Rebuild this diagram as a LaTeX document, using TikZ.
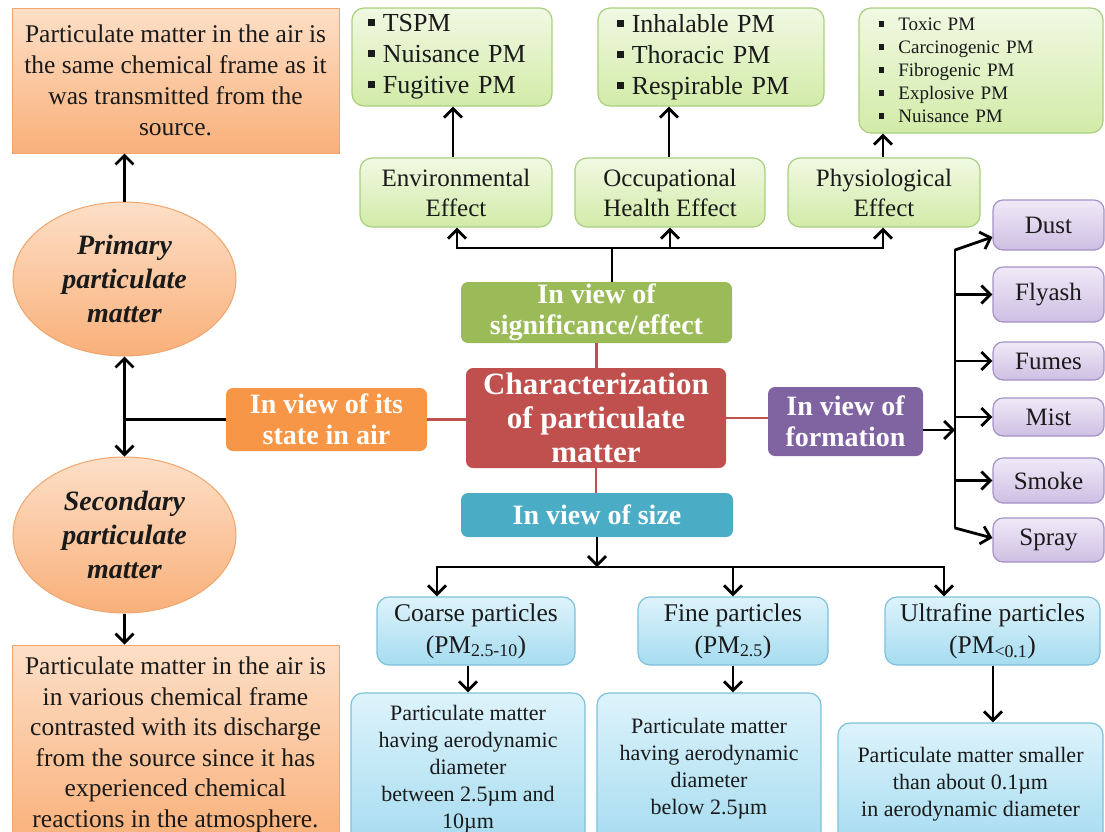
\documentclass[tikz,border=0pt]{standalone}
\usepackage{fontspec}
\setmainfont{Liberation Serif}
\usetikzlibrary{arrows.meta,shapes.geometric}
\definecolor{cOrD}{HTML}{F79646}
\definecolor{cRed}{HTML}{C0504D}
\definecolor{cGrn}{HTML}{9BBB59}
\definecolor{cBlu}{HTML}{4BACC6}
\definecolor{cPur}{HTML}{8064A2}
\definecolor{oT}{HTML}{FDDFC7}
\definecolor{oB}{HTML}{F9B079}
\definecolor{oE}{HTML}{EFA56C}
\definecolor{gT}{HTML}{F1F9E3}
\definecolor{gB}{HTML}{D2EBA8}
\definecolor{gE}{HTML}{A9CF7E}
\definecolor{pT}{HTML}{F0EAF7}
\definecolor{pB}{HTML}{CDBFE3}
\definecolor{pE}{HTML}{A592C6}
\definecolor{bT}{HTML}{DDF3FB}
\definecolor{bB}{HTML}{A6DCF0}
\definecolor{bE}{HTML}{7DC1DB}
\definecolor{txt}{HTML}{1A1A1A}
\newcommand\fsz[2]{\fontsize{#1}{#2}\selectfont}
\newcommand\sqb[1]{\rule[0.22em]{0.27em}{0.27em}\hspace{#1}}
\begin{document}
\begin{tikzpicture}[x=1pt,y=-1pt,
 nbase/.style={inner sep=0pt, align=center, text=txt},
 obox/.style={nbase, rectangle, draw=oE, line width=1pt, top color=oT, bottom color=oB},
 oell/.style={nbase, ellipse, draw=oE, line width=1pt, top color=oT, bottom color=oB},
 gbox/.style={nbase, rounded corners=12pt, draw=gE, line width=1.2pt, top color=gT, bottom color=gB},
 pbox/.style={nbase, rounded corners=10pt, draw=pE, line width=1.2pt, top color=pT, bottom color=pB, font=\fsz{25}{30}},
 bbox/.style={nbase, rounded corners=12pt, draw=bE, line width=1.2pt, top color=bT, bottom color=bB},
 dbox/.style={nbase, rounded corners=7pt, text=white, font=\bfseries\fsz{28}{31}},
 arr/.style={draw=black, line width=2.8pt, -{Straight Barb[length=9pt,width=18pt]}},
 arrb/.style={draw=black, line width=2.8pt, {Straight Barb[length=9pt,width=18pt]}-{Straight Barb[length=9pt,width=18pt]}},
 ln/.style={draw=black, line width=2.8pt},
 rl/.style={draw=cRed, line width=2.2pt},
]
\fill[white] (0,0) rectangle (1105,831);
\useasboundingbox (0,0) rectangle (1105,831);

% left column
\node[obox, minimum width=327pt, minimum height=145pt, font=\fsz{25.5}{31}] (tl) at (175.5,80.5)
 {Particulate matter in the air is\\the same chemical frame as it\\was transmitted from the\\source.};
\node[oell, minimum width=223pt, minimum height=154pt, font=\bfseries\itshape\fsz{28}{34}] (ep) at (124.5,279)
 {Primary\\particulate\\matter};
\node[oell, minimum width=223pt, minimum height=156pt, font=\bfseries\itshape\fsz{28}{34}] (es) at (124.5,535)
 {Secondary\\particulate\\matter};
\node[obox, minimum width=327pt, minimum height=200pt, font=\fsz{25.5}{30.5}] (bl) at (175.5,745)
 {Particulate matter in the air is\\in various chemical frame\\contrasted with its discharge\\from the source since it has\\experienced chemical\\reactions in the atmosphere.};

% central boxes
\node[dbox, fill=cOrD, minimum width=201pt, minimum height=63pt] (state) at (326.5,419.5) {In view of its\\state in air};
\node[dbox, fill=cRed, minimum width=260pt, minimum height=100pt, font=\bfseries\fsz{31}{34}] (char) at (596,418)
 {Characterization\\of particulate\\matter};
\node[dbox, fill=cGrn, minimum width=271pt, minimum height=61pt] (sig) at (596.5,312.5) {In view of\\significance/effect};
\node[dbox, fill=cBlu, minimum width=272pt, minimum height=44pt] (size) at (597,515) {In view of size};
\node[dbox, fill=cPur, minimum width=155pt, minimum height=69pt] (form) at (845.5,421.5) {In view of\\formation};

% top green
\node[gbox, minimum width=192pt, minimum height=69pt, font=\fsz{25}{30}] (env) at (456,192.5) {Environmental\\Effect};
\node[gbox, minimum width=190pt, minimum height=69pt, font=\fsz{25}{30}] (occ) at (670,192.5) {Occupational\\Health Effect};
\node[gbox, minimum width=192pt, minimum height=69pt, font=\fsz{25}{30}] (phy) at (884,192.5) {Physiological\\Effect};
\node[gbox, align=left, text width=168pt, inner xsep=16pt, minimum height=98pt, font=\fsz{26}{31}] (tspm) at (452,57)
 {\sqb{0.3em}TSPM\\\sqb{0.3em}Nuisance PM\\\sqb{0.3em}Fugitive PM};
\node[gbox, align=left, text width=188pt, inner xsep=19pt, minimum height=98pt, font=\fsz{26}{31}] (inh) at (711,57)
 {\sqb{0.3em}Inhalable PM\\\sqb{0.3em}Thoracic PM\\\sqb{0.3em}Respirable PM};
\node[gbox, align=left, text width=204pt, inner xsep=20pt, minimum height=125pt, font=\fsz{19}{23}] (tox) at (981,70.5)
 {\sqb{0.75em}Toxic PM\\\sqb{0.75em}Carcinogenic PM\\\sqb{0.75em}Fibrogenic PM\\\sqb{0.75em}Explosive PM\\\sqb{0.75em}Nuisance PM};

% purple
\node[pbox, minimum width=111pt, minimum height=50pt] (dust) at (1048.5,225) {Dust};
\node[pbox, minimum width=111pt, minimum height=55pt] (flyash) at (1048.5,294.5) {Flyash};
\node[pbox, minimum width=111pt, minimum height=38pt] (fumes) at (1048.5,361) {Fumes};
\node[pbox, minimum width=111pt, minimum height=38pt] (mist) at (1048.5,417) {Mist};
\node[pbox, minimum width=111pt, minimum height=45pt] (smoke) at (1048.5,480.5) {Smoke};
\node[pbox, minimum width=111pt, minimum height=44pt] (spray) at (1048.5,540) {Spray};

% bottom cyan
\node[bbox, minimum width=198pt, minimum height=68pt, font=\fsz{25.5}{32}] (coarse) at (476,631) {Coarse particles\\(PM\textsubscript{2.5-10})};
\node[bbox, minimum width=190pt, minimum height=68pt, font=\fsz{25.5}{32}] (fine) at (733,631) {Fine particles\\(PM\textsubscript{2.5})};
\node[bbox, minimum width=215pt, minimum height=68pt, font=\fsz{25.5}{32}] (ultra) at (992.5,631) {Ultrafine particles\\(PM\textsubscript{<0.1})};
\node[bbox, minimum width=234pt, minimum height=152pt, font=\fsz{22}{27}] (cd) at (468,769)
 {Particulate matter\\having aerodynamic\\diameter\\between 2.5µm and\\10µm};
\node[bbox, minimum width=224pt, minimum height=152pt, font=\fsz{22}{27}] (fd) at (709,769)
 {Particulate matter\\having aerodynamic\\diameter\\below 2.5µm};
\node[bbox, minimum width=265pt, minimum height=122pt, font=\fsz{22}{27}] (ud) at (970.5,784)
 {Particulate matter smaller\\than about 0.1µm\\in aerodynamic diameter};

% left connectors
\draw[arr] (ep.north) -- (ep.north |- tl.south);
\draw[arrb] (ep.south) -- (es.north);
\draw[ln] (state.west) -- (state.west -| ep.south);
\draw[arr] (es.south) -- (es.south |- bl.north);

% red connectors
\draw[rl] (state.east) -- (state.east -| char.west);
\draw[rl] (sig.south) -- (sig.south |- char.north);
\draw[rl] (char.south) -- (char.south |- size.north);
\draw[rl] (char.east) -- (char.east -| form.west);

% top connectors
\coordinate (bj) at (612,248);
\draw[ln] (bj |- sig.north) -- (bj);
\draw[arr] (bj) -| ([xshift=1pt]env.south);
\draw[arr] (bj) -| ([xshift=-1pt]phy.south);
\draw[arr] (bj -| occ.south) -- (occ.south);
\draw[arr] ([xshift=-3pt]env.north) -- ([xshift=-3pt]env.north |- tspm.south);
\draw[arr] ([xshift=-1pt]occ.north) -- ([xshift=-1pt]occ.north |- inh.south);
\draw[arr] ([xshift=-1pt]phy.north) -- ([xshift=-1pt]phy.north |- tox.south);

% formation connectors
\coordinate (ft) at (955,250);
\coordinate (fb) at (955,528);
\draw[ln, line cap=round] (ft) -- (fb);
\draw[arr] ([yshift=-8.5pt]form.east) -- ([yshift=-8.5pt]form.east -| ft);
\draw[arr] (ft) -- ([yshift=-12pt]dust.west);
\draw[arr] (flyash.west -| ft) -- (flyash.west);
\draw[arr] (fumes.west -| ft) -- (fumes.west);
\draw[arr] (mist.west -| ft) -- (mist.west);
\draw[arr] (smoke.west -| ft) -- (smoke.west);
\draw[arr] (fb) -- ([yshift=2pt]spray.west);

% bottom connectors
\coordinate (sj) at (597,567);
\draw[arr] (size.south) -- (size.south |- sj);
\draw[arr] (sj) -| ([xshift=-39pt]coarse.north);
\draw[arr] (sj) -| ([xshift=-48.5pt]ultra.north);
\draw[arr] (sj -| fine.north) -- (fine.north);
\draw[arr] ([xshift=-8pt]coarse.south) -- ([xshift=-8pt]coarse.south |- cd.north);
\draw[arr] (fine.south) -- (fine.south |- fd.north);
\draw[arr] ([xshift=0.5pt]ultra.south) -- ([xshift=0.5pt]ultra.south |- ud.north);
\end{tikzpicture}
\end{document}
